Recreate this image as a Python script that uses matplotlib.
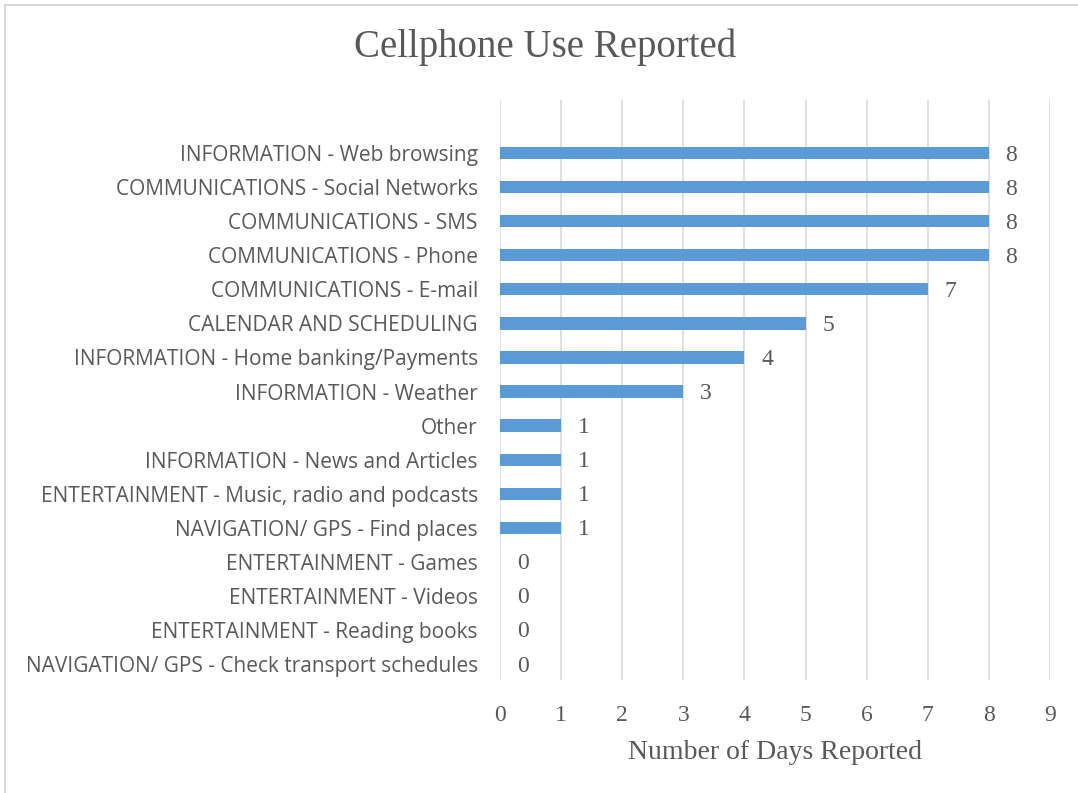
import matplotlib.pyplot as plt
from matplotlib.lines import Line2D

# categories listed bottom to top, as barh draws them
categories = [
    "NAVIGATION/ GPS - Check transport schedules",
    "ENTERTAINMENT - Reading books",
    "ENTERTAINMENT - Videos",
    "ENTERTAINMENT - Games",
    "NAVIGATION/ GPS - Find places",
    "ENTERTAINMENT - Music, radio and podcasts",
    "INFORMATION - News and Articles",
    "Other",
    "INFORMATION - Weather",
    "INFORMATION - Home banking/Payments",
    "CALENDAR AND SCHEDULING",
    "COMMUNICATIONS - E-mail",
    "COMMUNICATIONS - Phone",
    "COMMUNICATIONS - SMS",
    "COMMUNICATIONS - Social Networks",
    "INFORMATION - Web browsing",
]
days = [0, 0, 0, 0, 1, 1, 1, 1, 3, 4, 5, 7, 8, 8, 8, 8]
x_ticks = list(range(0, 10))

text_grey = "#595959"
serif = "Liberation Serif"
sans = "Open Sans"

fig = plt.figure(figsize=(10.78, 7.93), dpi=100)
ax = fig.add_axes([0.4638, 0.1425, 0.5102, 0.7314])

pos = list(range(len(categories)))
ax.barh(pos, days, height=0.36, color="#5b9bd5", zorder=3)

for y, v in zip(pos, days):
    ax.text(v + 0.37, y - 0.06, str(v), va="center", ha="center",
            fontsize=17, family=serif, color=text_grey)

ax.set_xlim(0, 9)
ax.set_ylim(-0.47, 16.56)
ax.set_xticks(x_ticks)
ax.set_xticklabels([str(t) for t in x_ticks], family=serif, fontsize=17,
                   color=text_grey)
ax.set_yticks(pos)
ax.set_yticklabels(categories, family=sans, fontsize=15, color=text_grey)
ax.tick_params(length=0)
ax.tick_params(axis="x", pad=18)
ax.tick_params(axis="y", pad=16)

ax.grid(axis="x", color="#d9d9d9", linewidth=1.2, zorder=0)
for s in ax.spines.values():
    s.set_visible(False)

ax.set_xlabel("Number of Days Reported", family=serif, fontsize=20,
              color=text_grey, labelpad=10)
fig.text(0.5056, 0.940, "Cellphone Use Reported", ha="center", va="center",
         family=serif, fontsize=28, color=text_grey)

# chart area edge, top and left only
fig.add_artist(Line2D([0.005, 1.0], [0.994, 0.994], color="#d9d9d9", lw=1.5))
fig.add_artist(Line2D([0.005, 0.005], [0.0, 0.994], color="#d9d9d9", lw=1.5))

fig.savefig("out.png", dpi=100)
